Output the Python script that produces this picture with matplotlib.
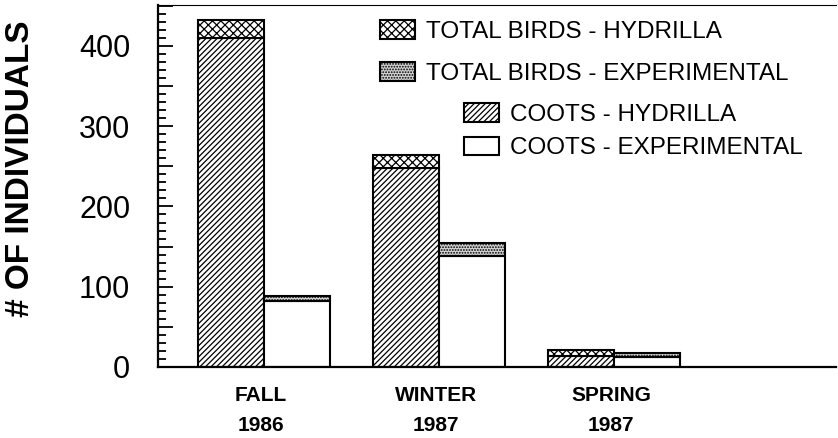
import matplotlib
matplotlib.use("Agg")
import matplotlib.pyplot as plt
from matplotlib.patches import Patch
from matplotlib.ticker import FuncFormatter
from matplotlib.transforms import ScaledTranslation
import numpy as np

plt.rcParams['font.family'] = ['Liberation Sans', 'DejaVu Sans']
plt.rcParams['hatch.linewidth'] = 0.9

seasons = ["FALL\n1986", "WINTER\n1987", "SPRING\n1987"]
coots_hydrilla = [410, 248, 14]
total_hydrilla = [432, 264, 21]
coots_experimental = [82, 138, 13]
total_experimental = [89, 155, 17]

legend_labels = ["TOTAL BIRDS - HYDRILLA", "TOTAL BIRDS - EXPERIMENTAL",
                 "COOTS - HYDRILLA", "COOTS - EXPERIMENTAL"]

W, H = 838, 438
fig = plt.figure(figsize=(W / 100, H / 100), dpi=100)
ax = fig.add_axes([158 / W, 1 - 367 / H, (836 - 158) / W, (367 - 5) / H])

x = np.arange(len(seasons))
w = 0.377
lw = 1.5
ch = np.array(coots_hydrilla)
th = np.array(total_hydrilla)
ce = np.array(coots_experimental)
te = np.array(total_experimental)

cross = dict(facecolor='white', edgecolor='black', hatch='xxxx', linewidth=lw)
stip = dict(facecolor='#d4d4d4', edgecolor='black', hatch='......', linewidth=lw)
diag = dict(facecolor='white', edgecolor='black', hatch='//////', linewidth=lw)
plain = dict(facecolor='white', edgecolor='black', linewidth=lw)

ax.bar(x - w / 2, ch, w, **diag)
ax.bar(x - w / 2, th - ch, w, bottom=ch, **cross)
ax.bar(x + w / 2, ce, w, **plain)
ax.bar(x + w / 2, te - ce, w, bottom=ce, **stip)

ax.set_xlim(-0.606, 3.269)
ax.set_ylim(0, 451)

ax.set_yticks(np.arange(0, 451, 50))
ax.set_yticks([v for v in range(0, 451, 10) if v % 50 != 0], minor=True)
ax.yaxis.set_major_formatter(FuncFormatter(lambda v, p: f"{int(round(v))}" if int(round(v)) % 100 == 0 else ""))
ax.tick_params(axis='y', which='major', direction='in', length=11, width=1.3,
               labelsize=22, pad=20)
ax.tick_params(axis='y', which='minor', direction='in', length=6, width=1.3,
               left=True, color='black')
ax.set_xticks(x)
ax.set_xticklabels(seasons, fontsize=15, fontweight='bold', linespacing=1.72)
ax.tick_params(axis='x', which='major', length=0, pad=13.5)
ax.tick_params(axis='x', which='minor', bottom=False)
for lab in ax.get_xticklabels():
    lab.set_transform(lab.get_transform() + ScaledTranslation(-3 / 100, 0, fig.dpi_scale_trans))

for s in ['left', 'bottom']:
    ax.spines[s].set_linewidth(1.6)
ax.spines['top'].set_linewidth(0.8)
ax.spines['right'].set_visible(False)

fig.text(21 / W, 1 - 169 / H, "# OF INDIVIDUALS", rotation=90, fontsize=24,
         fontweight='bold', ha='center', va='center')

h1 = [Patch(**cross, label=legend_labels[0]), Patch(**stip, label=legend_labels[1])]
h2 = [Patch(**diag, label=legend_labels[2]), Patch(**plain, label=legend_labels[3])]
leg1 = ax.legend(handles=h1, loc='upper left', bbox_to_anchor=(380 / W, 1 - 20 / H),
                 bbox_transform=fig.transFigure, frameon=False, borderpad=0,
                 borderaxespad=0, fontsize=17.5, handlelength=1.45, handleheight=0.8,
                 handletextpad=0.45, labelspacing=0.8)
ax.add_artist(leg1)
ax.legend(handles=h2, loc='upper left', bbox_to_anchor=(464 / W, 1 - 103 / H),
          bbox_transform=fig.transFigure, frameon=False, borderpad=0,
          borderaxespad=0, fontsize=17.5, handlelength=1.45, handleheight=0.8,
          handletextpad=0.45, labelspacing=0.45)

fig.savefig("out.png", dpi=100)
